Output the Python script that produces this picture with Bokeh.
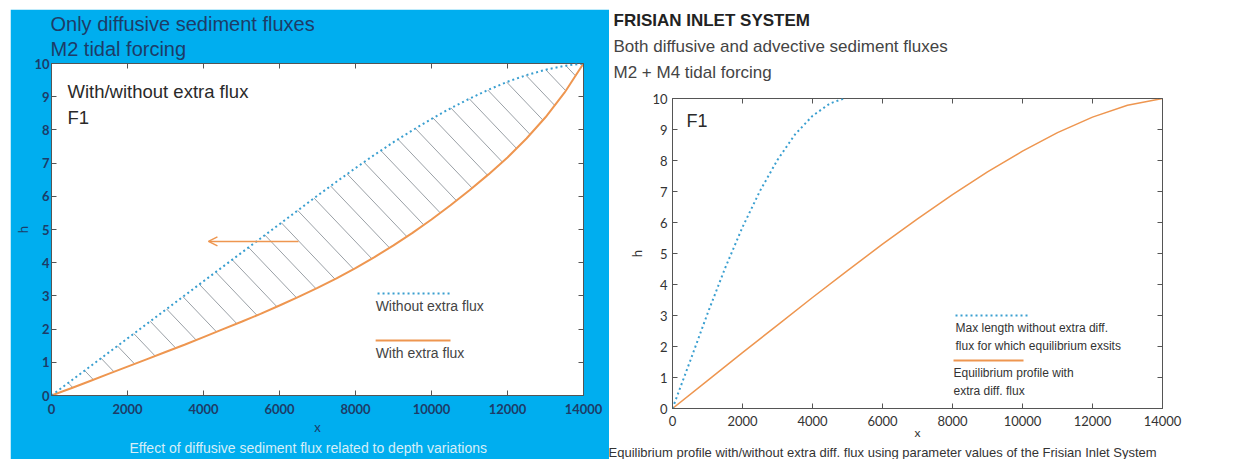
import numpy as np
from bokeh.plotting import figure
from bokeh.models import LinearAxis, Label, Title, Arrow, OpenHead, Spacer, FixedTicker, Range1d
from bokeh.layouts import row, column
from bokeh.embed import file_html
from bokeh.resources import INLINE

# ---------------- data ----------------
x_ticks = [0, 2000, 4000, 6000, 8000, 10000, 12000, 14000]
h_ticks = [0, 1, 2, 3, 4, 5, 6, 7, 8, 9, 10]

# Left: diffusive fluxes only, M2 forcing
left_x = [0, 500, 1000, 1500, 2000, 2500, 3000, 3500, 4000, 4500, 5000, 5500, 6000, 6500, 7000,
          7500, 8000, 8500, 9000, 9500, 10000, 10500, 11000, 11500, 12000, 12500, 13000, 13500, 14000]
left_h_without = [0, 0.43, 0.86, 1.29, 1.72, 2.15, 2.58, 3.01, 3.44, 3.87, 4.30, 4.73, 5.16, 5.59, 6.02,
                  6.44, 6.85, 7.25, 7.63, 7.99, 8.33, 8.65, 8.94, 9.21, 9.45, 9.65, 9.81, 9.93, 10.0]
left_h_with = [0, 0.21, 0.43, 0.65, 0.87, 1.09, 1.31, 1.53, 1.76, 1.99, 2.22, 2.46, 2.71, 2.97, 3.24,
               3.53, 3.84, 4.17, 4.52, 4.90, 5.30, 5.73, 6.18, 6.66, 7.17, 7.74, 8.38, 9.12, 10.0]
arrow_x = [6500, 4130]
arrow_h = 4.64

# Right: Frisian Inlet System, diffusive + advective, M2 + M4
right_x_without = [0, 500, 1000, 1500, 2000, 2500, 3000, 3500, 4000, 4500, 4900]
right_h_without = [0, 1.52, 3.06, 4.52, 5.85, 7.02, 8.02, 8.84, 9.44, 9.84, 10.0]
right_x_with = [0, 1000, 2000, 3000, 4000, 5000, 6000, 7000, 8000, 9000, 10000, 11000, 12000, 13000, 14000]
right_h_with = [0, 0.90, 1.80, 2.69, 3.58, 4.45, 5.30, 6.12, 6.90, 7.63, 8.30, 8.90, 9.40, 9.78, 10.0]

# ---------------- styling ----------------
PANEL_BLUE = "#00aeef"
NAVY = "#1d3c68"
DOT_BLUE = "#3a9fd0"
ORANGE = "#ee9650"
HATCH = "#9aa0a6"
TXT = "#333333"

L_FW, L_FH = 532, 332
R_FW, R_FH = 490, 310


def style_box(p, tick_color, label_color, bold):
    for ax in p.axis:
        ax.major_tick_in = 5
        ax.major_tick_out = 0
        ax.minor_tick_line_color = None
        ax.axis_line_color = "#555555"
        ax.major_tick_line_color = "#555555"
        ax.major_label_text_color = tick_color
        ax.major_label_text_font = "Lato"
        ax.major_label_text_font_size = "13px"
        ax.major_label_text_font_style = "bold" if bold else "normal"
        ax.axis_label_text_color = label_color
        ax.axis_label_text_font = "Lato"
        ax.axis_label_text_font_size = "13px"
        ax.axis_label_text_font_style = "normal"
    p.xaxis.ticker = FixedTicker(ticks=x_ticks)
    p.yaxis.ticker = FixedTicker(ticks=h_ticks)
    # tick marks on the top and right sides of the box
    for loc, ticks in (("above", x_ticks), ("right", h_ticks)):
        ax = LinearAxis(major_tick_in=5, major_tick_out=0, major_label_text_font_size="1px",
                        minor_tick_line_color=None, axis_line_color=None,
                        major_tick_line_color="#555555", major_label_standoff=0,
                        major_label_overrides={t: "" for t in ticks})
        ax.ticker = FixedTicker(ticks=ticks)
        p.add_layout(ax, loc)
    p.outline_line_color = "#555555"
    p.grid.visible = False


def label(p, x, y, text, size, color, font="Liberation Sans", style="normal", align="left"):
    p.add_layout(Label(x=x, y=y, text=text, text_font=font, text_font_size=size,
                       text_color=color, text_font_style=style, text_align=align,
                       text_baseline="middle"))


def title(p, place, text, size, color, standoff, offset, style="normal"):
    p.add_layout(Title(text=text, text_font="Liberation Sans", text_font_size=size,
                       text_color=color, text_font_style=style, align="left",
                       offset=offset, standoff=standoff), place)


def gap(p, place, standoff):
    # blank title used only to open space between the frame and the heading lines
    p.add_layout(Title(text=" ", text_font_size="1px", standoff=standoff), place)


# ---------------- left panel ----------------
pl = figure(frame_width=L_FW, frame_height=L_FH, x_range=Range1d(0, 14000), y_range=Range1d(0, 10),
            min_border_left=41, min_border_right=26, min_border_top=54, min_border_bottom=64,
            output_backend="svg", toolbar_location=None,
            x_axis_label="x", y_axis_label="h")
pl.border_fill_color = PANEL_BLUE
pl.background_fill_color = "white"
style_box(pl, NAVY, NAVY, True)
pl.yaxis.major_label_standoff = 2
pl.yaxis.axis_label_standoff = 0
pl.xaxis.major_label_standoff = 8
pl.xaxis.axis_label_standoff = 2

# hatch segments joining the two profiles, evenly spaced along the upper curve
sx, sy = L_FW / 14000, L_FH / 10
xs = np.linspace(0, 14000, 2801)
hd = np.interp(xs, left_x, left_h_without)
arc = np.concatenate([[0], np.cumsum(np.hypot(np.diff(xs) * sx, np.diff(hd) * sy))])
hx0, hy0, hx1, hy1 = [], [], [], []
t = np.linspace(0, 300, 6001)
for s in np.arange(21.0, arc[-1] - 6, 20.5):
    x0 = np.interp(s, arc, xs)
    h0 = np.interp(x0, xs, hd)
    X = x0 + t / sx
    H = h0 - 1.05 * t / sy
    d = H - np.interp(X, left_x, left_h_with)
    k = int(np.argmax(d <= 0))
    if k == 0:
        continue
    hx0.append(x0); hy0.append(h0); hx1.append(X[k]); hy1.append(H[k])
pl.segment(hx0, hy0, hx1, hy1, line_color=HATCH, line_width=1)

pl.line(left_x, left_h_with, line_color=ORANGE, line_width=2)
pl.line(left_x, left_h_without, line_color=DOT_BLUE, line_width=2, line_dash="2 3")

pl.add_layout(Arrow(end=OpenHead(size=9, line_color=ORANGE, line_width=1.5),
                    x_start=arrow_x[0], y_start=arrow_h, x_end=arrow_x[1], y_end=arrow_h,
                    line_color=ORANGE, line_width=1.5))

# legend
pl.line([8580, 10500], [3.07, 3.07], line_color=DOT_BLUE, line_width=2, line_dash="2 3")
label(pl, 8530, 2.71, "Without extra flux", "14px", "#444444")
pl.line([8530, 10500], [1.66, 1.66], line_color=ORANGE, line_width=2)
label(pl, 8530, 1.27, "With extra flux", "14px", "#444444")

label(pl, 420, 9.16, "With/without extra flux", "18.5px", "#2a2a2a")
label(pl, 420, 8.37, "F1", "18.5px", "#2a2a2a")

gap(pl, "above", 0)
title(pl, "above", "M2 tidal forcing", "20px", NAVY, 2, -1)
title(pl, "above", "Only diffusive sediment fluxes", "20px", NAVY, 0, -1)
title(pl, "below", "Effect of diffusive sediment flux related to depth variations", "14px",
      "#d6eef8", 0, 78)

# ---------------- right panel ----------------
pr = figure(frame_width=R_FW, frame_height=R_FH, x_range=Range1d(0, 14000), y_range=Range1d(0, 10),
            min_border_left=63, min_border_right=90, min_border_top=98, min_border_bottom=51,
            output_backend="svg", toolbar_location=None,
            x_axis_label="x", y_axis_label="h")
pr.border_fill_color = "white"
pr.background_fill_color = "white"
style_box(pr, TXT, TXT, False)
pr.xaxis.major_label_standoff = 7
pr.xaxis.axis_label_standoff = -4
pr.xaxis.axis_label_text_font_size = "12px"
pr.yaxis.axis_label_standoff = 4

pr.line(right_x_with, right_h_with, line_color=ORANGE, line_width=1.5)
pr.line(right_x_without, right_h_without, line_color=DOT_BLUE, line_width=2, line_dash="2 3")

pr.line([8086, 10143], [3.0, 3.0], line_color=DOT_BLUE, line_width=2, line_dash="2 3")
label(pr, 8086, 2.61, "Max length without extra diff.", "12px", TXT)
label(pr, 8086, 2.03, "flux for which equilibrium exsits", "12px", TXT)
pr.line([8029, 10029], [1.55, 1.55], line_color=ORANGE, line_width=2)
label(pr, 8029, 1.13, "Equilibrium profile with", "12px", TXT)
label(pr, 8029, 0.55, "extra diff. flux", "12px", TXT)

label(pr, 400, 9.26, "F1", "18px", "#2a2a2a")

gap(pr, "above", 12)
title(pr, "above", "M2 + M4 tidal forcing", "17px", "#444444", 4, -59)
title(pr, "above", "Both diffusive and advective sediment fluxes", "17px", "#444444", 6, -59)
title(pr, "above", "FRISIAN INLET SYSTEM", "17px", "#222222", 4, -59, style="bold")
title(pr, "below",
      "Equilibrium profile with/without extra diff. flux using parameter values of the Frisian Inlet System",
      "13px", TXT, 0, -64)

layout = row(column(Spacer(width=609, height=9), row(Spacer(width=10, height=450), pl)), pr)

open("out.html", "w").write(file_html(layout, INLINE))
